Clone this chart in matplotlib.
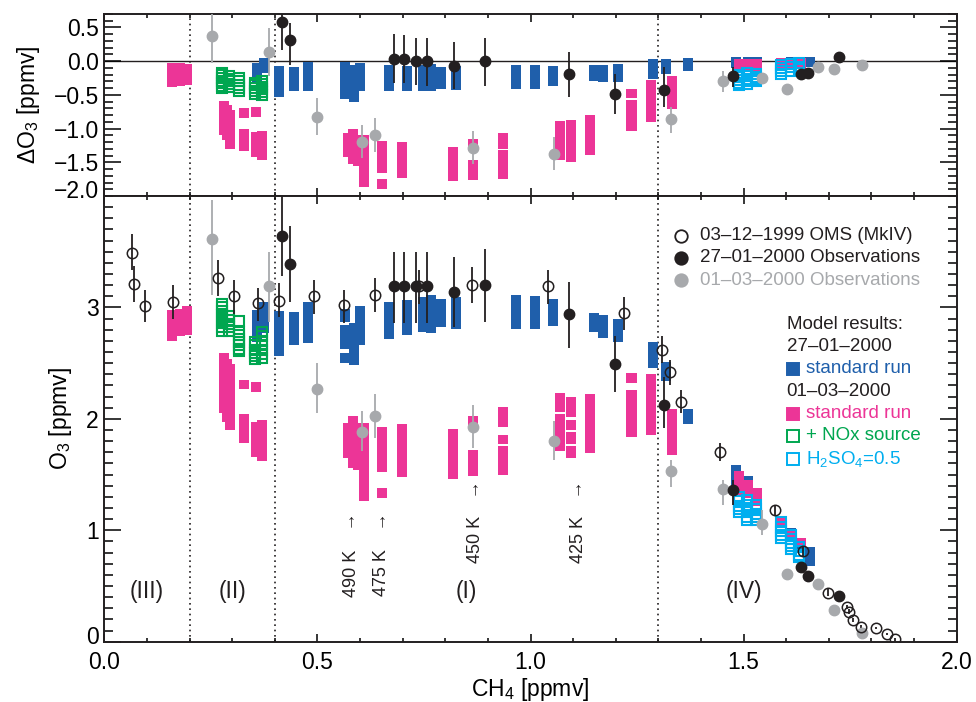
import numpy as np
import matplotlib
matplotlib.use('Agg')
import matplotlib.pyplot as plt
from matplotlib.ticker import MultipleLocator, FixedLocator
from matplotlib.transforms import ScaledTranslation

plt.rcParams['font.family'] = ['Liberation Sans', 'DejaVu Sans']
plt.rcParams['mathtext.fontset'] = 'custom'
plt.rcParams['mathtext.rm'] = 'Liberation Sans'
plt.rcParams['mathtext.it'] = 'Liberation Sans:italic'
plt.rcParams['mathtext.bf'] = 'Liberation Sans:bold'

BLUE = '#1f5fab'
PINK = '#ec3597'
GREEN = '#00a650'
CYAN = '#00aeef'
GREY = '#a7a9ac'
BLACK = '#231f20'

# ---------------------------------------------------------------
# Model results, 27-01-2000 standard run (blue bars)
blue_x_bot = [0.358, 0.375, 0.410, 0.445, 0.478, 0.565, 0.565, 0.565, 0.586, 0.600,
              0.668, 0.710, 0.748, 0.767, 0.790, 0.825, 0.966, 1.010, 1.053, 1.149,
              1.171, 1.205, 1.288, 1.319, 1.369, 1.482, 1.511, 1.531, 1.612, 1.634, 1.655]
blue_lo_bot = [2.69, 2.77, 2.56, 2.66, 2.68, 2.87, 2.63, 2.50, 2.48, 2.66,
               2.72, 2.75, 2.78, 2.77, 2.82, 2.81, 2.81, 2.81, 2.83, 2.78,
               2.73, 2.69, 2.46, 2.34, 1.95, 1.40, 1.33, 1.28, 0.90, 0.80, 0.68]
blue_hi_bot = [2.98, 3.05, 2.97, 2.96, 3.05, 2.99, 2.84, 2.59, 2.86, 3.01,
               3.05, 3.07, 3.09, 3.11, 3.08, 3.09, 3.11, 3.10, 3.08, 2.95,
               2.93, 2.90, 2.69, 2.51, 2.09, 1.585, 1.49, 1.38, 1.02, 0.90, 0.85]

blue_x_top = [0.358, 0.375, 0.410, 0.445, 0.478, 0.565, 0.586, 0.600, 0.668, 0.710,
              0.748, 0.767, 0.790, 0.825, 0.966, 1.010, 1.053, 1.149, 1.171, 1.205,
              1.288, 1.319, 1.369, 1.482, 1.511, 1.531, 1.612, 1.634, 1.655]
blue_lo_top = [-0.32, -0.18, -0.53, -0.44, -0.44, -0.56, -0.60, -0.44, -0.44, -0.44,
               -0.44, -0.44, -0.415, -0.43, -0.415, -0.415, -0.37, -0.29, -0.31, -0.31,
               -0.27, -0.19, -0.14, -0.10, -0.10, -0.10, -0.09, -0.09, -0.085]
blue_hi_top = [-0.03, 0.04, -0.07, -0.09, -0.01, -0.01, -0.06, -0.03, -0.06, -0.07,
               -0.06, -0.045, -0.08, -0.07, -0.06, -0.06, -0.07, -0.06, -0.06, -0.045,
               0.03, 0.03, 0.05, 0.055, 0.055, 0.055, 0.055, 0.055, 0.055]

# Model results, 01-03-2000 standard run (pink bars)
pink_x_bot = [0.158, 0.178, 0.193, 0.280, 0.288, 0.296, 0.328, 0.328, 0.355, 0.355,
              0.369, 0.571, 0.584, 0.595, 0.610, 0.652, 0.652, 0.698, 0.817, 0.865,
              0.865, 0.935, 0.935, 0.935, 1.070, 1.070, 1.095, 1.095, 1.095, 1.095,
              1.140, 1.237, 1.237, 1.282, 1.333, 1.489, 1.511, 1.531, 1.588, 1.611, 1.634]
pink_lo_bot = [2.70, 2.74, 2.75, 2.05, 1.975, 1.90, 2.27, 1.78, 2.24, 1.66,
               1.62, 1.65, 1.56, 1.54, 1.26, 1.52, 1.29, 1.48, 1.46, 1.92,
               1.49, 1.93, 1.77, 1.50, 2.06, 1.71, 2.02, 1.90, 1.77, 1.65,
               1.69, 2.32, 1.84, 1.855, 1.68, 1.32, 1.29, 1.22, 1.04, 0.92, 0.85]
pink_hi_bot = [2.98, 2.99, 3.01, 2.59, 2.54, 2.49, 2.35, 2.04, 2.33, 1.97,
               1.99, 1.96, 2.03, 1.96, 1.96, 1.93, 1.38, 1.95, 1.91, 2.03,
               1.72, 2.11, 1.855, 1.76, 2.23, 2.04, 2.20, 1.99, 1.88, 1.76,
               2.22, 2.41, 2.26, 2.40, 2.09, 1.53, 1.45, 1.38, 1.12, 0.99, 0.93]

pink_x_top = [0.158, 0.178, 0.193, 0.280, 0.288, 0.296, 0.328, 0.328, 0.355, 0.355,
              0.369, 0.571, 0.584, 0.595, 0.610, 0.652, 0.652, 0.698, 0.817, 0.865,
              0.865, 0.935, 0.935, 1.070, 1.095, 1.140, 1.237, 1.237, 1.282, 1.333,
              1.489, 1.511, 1.531, 1.588, 1.611, 1.634]
pink_lo_top = [-0.39, -0.37, -0.36, -1.10, -1.17, -1.30, -0.84, -1.33, -0.83, -1.42,
               -1.46, -1.42, -1.53, -1.55, -1.86, -1.66, -1.89, -1.73, -1.78, -1.33,
               -1.77, -1.30, -1.75, -1.47, -1.50, -1.39, -0.55, -1.03, -0.90, -0.71,
               -0.14, -0.15, -0.15, -0.11, -0.11, -0.11]
pink_hi_top = [-0.03, -0.03, -0.04, -0.59, -0.65, -0.73, -0.70, -1.01, -0.68, -1.05,
               -1.04, -1.06, -1.00, -1.10, -1.10, -1.19, -1.75, -1.20, -1.28, -1.16,
               -1.47, -1.07, -1.32, -0.89, -0.875, -0.80, -0.41, -0.57, -0.28, -0.22,
               0.025, 0.025, 0.025, 0.05, 0.05, 0.05]

# Model results, 01-03-2000 + NOx source (green open squares)
green_x_bot = [0.277] * 8 + [0.292] * 5 + [0.317] * 8 + [0.353] * 6 + [0.369] * 7
green_y_bot = [3.03, 3.00, 2.97, 2.93, 2.90, 2.86, 2.82, 2.79,
               2.92, 2.89, 2.85, 2.82, 2.79,
               2.88, 2.78, 2.75, 2.72, 2.69, 2.66, 2.63, 2.61,
               2.69, 2.66, 2.62, 2.59, 2.56, 2.54,
               2.78, 2.74, 2.70, 2.66, 2.62, 2.58, 2.55]
green_x_top = [0.277] * 7 + [0.292] * 5 + [0.317] * 5 + [0.353] * 5 + [0.369] * 6
green_y_top = [-0.17, -0.21, -0.25, -0.29, -0.33, -0.37, -0.40,
               -0.22, -0.26, -0.30, -0.34, -0.38,
               -0.25, -0.30, -0.35, -0.40, -0.44,
               -0.32, -0.36, -0.40, -0.44, -0.48,
               -0.30, -0.34, -0.38, -0.42, -0.46, -0.50]

# Model results, 01-03-2000 H2SO4=0.5 (cyan open squares)
cyan_x_bot = [1.489] * 5 + [1.509] * 6 + [1.528] * 5 + [1.587] * 5 + [1.611] * 5 + [1.630] * 4
cyan_y_bot = [1.30, 1.26, 1.22, 1.19, 1.16,
              1.27, 1.23, 1.20, 1.16, 1.12, 1.09,
              1.23, 1.19, 1.15, 1.12, 1.09,
              1.07, 1.03, 0.99, 0.96, 0.93,
              0.96, 0.92, 0.89, 0.86, 0.83,
              0.85, 0.81, 0.78, 0.76]
cyan_x_top = [1.489] * 5 + [1.509] * 5 + [1.528] * 4 + [1.587] * 4 + [1.611] * 3 + [1.630] * 3
cyan_y_top = [-0.20, -0.24, -0.28, -0.32, -0.36,
              -0.18, -0.22, -0.26, -0.30, -0.34,
              -0.19, -0.23, -0.27, -0.30,
              -0.05, -0.10, -0.15, -0.19,
              -0.04, -0.09, -0.14,
              -0.03, -0.08, -0.12]

# ---------------------------------------------------------------
# Observations 27-01-2000 (black dots)
obs1_x = [0.416, 0.436, 0.680, 0.702, 0.731, 0.756, 0.820, 0.893, 1.090, 1.198,
          1.314, 1.474, 1.635, 1.650, 1.723]
obs1_bot = [3.64, 3.39, 3.19, 3.19, 3.19, 3.19, 3.14, 3.20, 2.94, 2.49,
            2.12, 1.36, 0.67, 0.59, 0.41]
obs1_bot_lo = [3.28, 3.05, 2.86, 2.86, 2.86, 2.86, 2.82, 2.87, 2.64, 2.24,
               1.92, 1.23, 0.67, 0.59, 0.41]
obs1_bot_hi = [4.10, 3.73, 3.50, 3.50, 3.50, 3.50, 3.45, 3.52, 3.23, 2.74,
               2.38, 1.45, 0.67, 0.59, 0.41]
obs1_top = [0.574, 0.32, 0.034, 0.025, 0.005, -0.005, -0.07, -0.005, -0.19, -0.49,
            -0.43, -0.22, -0.19, -0.18, 0.055]
obs1_top_lo = [0.17, -0.06, -0.32, -0.33, -0.36, -0.37, -0.42, -0.366, -0.53, -0.79,
               -0.68, -0.39, -0.19, -0.18, 0.055]
obs1_top_hi = [0.75, 0.56, 0.40, 0.39, 0.35, 0.35, 0.29, 0.35, 0.14, -0.19,
               -0.08, -0.08, -0.19, -0.18, 0.055]

# Observations 01-03-2000 (grey dots)
obs2_x = [0.253, 0.387, 0.498, 0.605, 0.634, 0.864, 1.055, 1.329, 1.452, 1.543,
          1.601, 1.674, 1.713, 1.779]
obs2_bot = [3.61, 3.19, 2.27, 1.885, 2.03, 1.925, 1.80, 1.535, 1.37, 1.06,
            0.61, 0.52, 0.285, 0.08]
obs2_bot_lo = [3.11, 2.87, 2.05, 1.71, 1.83, 1.74, 1.63, 1.39, 1.23, 0.96,
               0.61, 0.52, 0.285, 0.08]
obs2_bot_hi = [3.96, 3.50, 2.50, 2.07, 2.22, 2.12, 1.98, 1.63, 1.45, 1.18,
               0.61, 0.52, 0.285, 0.08]
obs2_top = [0.37, 0.14, -0.83, -1.20, -1.10, -1.29, -1.37, -0.86, -0.30, -0.25,
            -0.42, -0.08, -0.11, -0.06]
obs2_top_lo = [-0.03, -0.22, -1.10, -1.44, -1.35, -1.53, -1.62, -1.06, -0.46, -0.33,
               -0.42, -0.08, -0.11, -0.06]
obs2_top_hi = [0.70, 0.49, -0.55, -0.95, -0.85, -1.04, -1.13, -0.68, -0.14, -0.17,
               -0.42, -0.08, -0.11, -0.06]

# OMS (MkIV) 03-12-1999 (open circles, lower panel only)
oms_x = [0.066, 0.070, 0.095, 0.160, 0.267, 0.305, 0.361, 0.411, 0.493, 0.563,
         0.634, 0.739, 0.862, 1.042, 1.219, 1.308, 1.327, 1.354, 1.444, 1.574,
         1.640, 1.699, 1.742, 1.748, 1.756, 1.775, 1.811, 1.837, 1.855]
oms_y = [3.49, 3.21, 3.01, 3.05, 3.26, 3.10, 3.04, 3.06, 3.10, 3.02,
         3.11, 3.19, 3.20, 3.19, 2.95, 2.62, 2.42, 2.15, 1.70, 1.18,
         0.81, 0.44, 0.31, 0.27, 0.195, 0.135, 0.12, 0.07, 0.02]
oms_lo = [3.34, 3.05, 2.87, 2.90, 3.10, 2.94, 2.88, 2.91, 2.94, 2.86,
          2.96, 3.03, 3.04, 3.03, 2.80, 2.50, 2.30, 2.05, 1.62, 1.13,
          0.76, 0.41, 0.29, 0.25, 0.18, 0.12, 0.11, 0.06, 0.01]
oms_hi = [3.66, 3.37, 3.16, 3.20, 3.43, 3.25, 3.17, 3.22, 3.25, 3.16,
          3.26, 3.34, 3.36, 3.34, 3.09, 2.74, 2.53, 2.26, 1.78, 1.23,
          0.86, 0.47, 0.33, 0.29, 0.21, 0.15, 0.13, 0.08, 0.03]

# Regions and isentropic levels
region_x = [0.10, 0.30, 0.85, 1.50]
region_lbl = ['(III)', '(II)', '(I)', '(IV)']
theta_x = [0.580, 0.651, 0.871, 1.112]
theta_lbl = ['490 K', '475 K', '450 K', '425 K']
theta_arrow_y = [1.077, 1.077, 1.366, 1.366]
theta_text_y = [0.617, 0.617, 0.917, 0.917]
boundaries = [0.2, 0.4, 1.3]

BAR_W = 0.0235


def draw_bars(ax, x, lo, hi, color):
    lo = np.array(lo)
    hi = np.array(hi)
    ax.bar(x, hi - lo, bottom=lo, width=BAR_W, color=color, linewidth=0, zorder=2)


def draw_obs(ax, x, y, lo, hi, **kw):
    y = np.array(y)
    err = [y - np.array(lo), np.array(hi) - y]
    ax.errorbar(x, y, yerr=err, capsize=0, elinewidth=1.3, zorder=5, **kw)


fig = plt.figure(figsize=(9.76, 7.02), dpi=100)
ax_top = fig.add_axes([0.1069, 0.7208, 0.8733, 0.2593])
ax_bot = fig.add_axes([0.1069, 0.0859, 0.8733, 0.6349])

for ax in (ax_top, ax_bot):
    for b in boundaries:
        ax.axvline(b, color=BLACK, linestyle=(0, (1, 2.2)), linewidth=1.2, zorder=1)
ax_top.axhline(0, color=BLACK, linewidth=1.0, zorder=1)

# upper panel: Delta O3
draw_bars(ax_top, blue_x_top, blue_lo_top, blue_hi_top, BLUE)
draw_bars(ax_top, pink_x_top, pink_lo_top, pink_hi_top, PINK)
ax_top.plot(green_x_top, green_y_top, 's', mfc='none', mec=GREEN, ms=7.5, mew=1.5, zorder=3)
ax_top.plot(cyan_x_top, cyan_y_top, 's', mfc='none', mec=CYAN, ms=7.5, mew=1.5, zorder=3)
draw_obs(ax_top, obs2_x, obs2_top, obs2_top_lo, obs2_top_hi, fmt='o', color=GREY, ms=7.5)
draw_obs(ax_top, obs1_x, obs1_top, obs1_top_lo, obs1_top_hi, fmt='o', color=BLACK, ms=7.5)

# lower panel: O3
draw_bars(ax_bot, blue_x_bot, blue_lo_bot, blue_hi_bot, BLUE)
draw_bars(ax_bot, pink_x_bot, pink_lo_bot, pink_hi_bot, PINK)
ax_bot.plot(green_x_bot, green_y_bot, 's', mfc='none', mec=GREEN, ms=7.5, mew=1.5, zorder=3)
ax_bot.plot(cyan_x_bot, cyan_y_bot, 's', mfc='none', mec=CYAN, ms=7.5, mew=1.5, zorder=3)
draw_obs(ax_bot, obs2_x, obs2_bot, obs2_bot_lo, obs2_bot_hi, fmt='o', color=GREY, ms=7.5)
draw_obs(ax_bot, oms_x, oms_y, oms_lo, oms_hi, fmt='o', color=BLACK, mfc='none', ms=7.5, mew=1.1)
draw_obs(ax_bot, obs1_x, obs1_bot, obs1_bot_lo, obs1_bot_hi, fmt='o', color=BLACK, ms=7.5)

for x, lbl in zip(region_x, region_lbl):
    ax_bot.text(x, 0.45, lbl, ha='center', va='center', fontsize=16.5, color=BLACK)
for x, lbl, ya, yt in zip(theta_x, theta_lbl, theta_arrow_y, theta_text_y):
    ax_bot.text(x, ya, '\u2191', ha='center', va='center', fontsize=13, color=BLACK)
    ax_bot.text(x, yt, lbl, ha='center', va='center', fontsize=13, rotation=90, color=BLACK)

# axes styling
for ax in (ax_top, ax_bot):
    ax.set_xlim(0, 2)
    ax.xaxis.set_major_locator(MultipleLocator(0.5))
    ax.xaxis.set_minor_locator(MultipleLocator(0.1))
    ax.tick_params(axis='x', which='major', direction='in', length=5.8, width=1.1,
                   top=True, bottom=True, labelsize=16.5, pad=7)
    ax.tick_params(axis='x', which='minor', direction='in', length=3.2, width=1.1,
                   top=True, bottom=True)
    ax.tick_params(axis='y', which='major', direction='in', length=12.2, width=1.1,
                   left=True, right=True, labelsize=16.5, pad=4)
    ax.tick_params(axis='y', which='minor', direction='in', length=6.5, width=1.1,
                   left=True, right=True)
    for s in ax.spines.values():
        s.set_linewidth(1.4)
        s.set_color(BLACK)

ax_top.set_ylim(-2.0, 0.7)
ax_top.yaxis.set_major_locator(FixedLocator([-2.0, -1.5, -1.0, -0.5, 0.0, 0.5]))
ax_top.yaxis.set_minor_locator(MultipleLocator(0.1))
ax_top.tick_params(axis='x', labelbottom=False)
ax_top.set_ylabel('\u0394O$_3$ [ppmv]', fontsize=16.5, labelpad=8)

ax_bot.set_ylim(0, 4)
ax_bot.yaxis.set_major_locator(FixedLocator([0, 1, 2, 3]))
ax_bot.yaxis.set_minor_locator(MultipleLocator(0.1))
ax_bot.set_ylabel('O$_3$ [ppmv]', fontsize=16.5, labelpad=9)
ax_bot.set_xlabel('CH$_4$ [ppmv]', fontsize=16.5, labelpad=1)

# legend drawn as text block
tr = ax_bot.transAxes
obs_rows = [('o', 'none', BLACK, '03\u201312\u20131999 OMS (MkIV)', BLACK, 0.911),
            ('o', BLACK, BLACK, '27\u201301\u20132000 Observations', BLACK, 0.862),
            ('o', GREY, GREY, '01\u201303\u20132000 Observations', GREY, 0.8115)]
for m, fc, ec, txt, tc, y in obs_rows:
    ax_bot.plot([0.677], [y], m, mfc=fc, mec=ec, ms=9, mew=1.3, transform=tr, clip_on=False)
    ax_bot.text(0.699, y, txt, transform=tr, fontsize=13.5, color=tc, va='center', ha='left')

ax_bot.text(0.8006, 0.712, 'Model results:', transform=tr, fontsize=13.5, color=BLACK, va='center')
ax_bot.text(0.8006, 0.662, '27\u201301\u20132000', transform=tr, fontsize=13.5, color=BLACK, va='center')
ax_bot.text(0.8006, 0.561, '01\u201303\u20132000', transform=tr, fontsize=13.5, color=BLACK, va='center')
model_rows = [(BLUE, BLUE, 'standard run', 0.612),
              (PINK, PINK, 'standard run', 0.511),
              ('none', GREEN, '+ NOx source', 0.462),
              ('none', CYAN, 'H$_2$SO$_4$=0.5', 0.411)]
for fc, ec, txt, y in model_rows:
    ax_bot.plot([0.808], [y], 's', mfc=fc, mec=ec, ms=9, mew=1.4, transform=tr, clip_on=False)
    ax_bot.text(0.823, y, txt, transform=tr, fontsize=13.5, color=ec, va='center', ha='left')

# lift the lowest y label of each panel off the panel's bottom edge
for ax in (ax_top, ax_bot):
    lowest = ax.yaxis.get_major_ticks()[0].label1
    lowest.set_transform(lowest.get_transform() + ScaledTranslation(0, 0.07, fig.dpi_scale_trans))

fig.savefig('out.png', dpi=100)
